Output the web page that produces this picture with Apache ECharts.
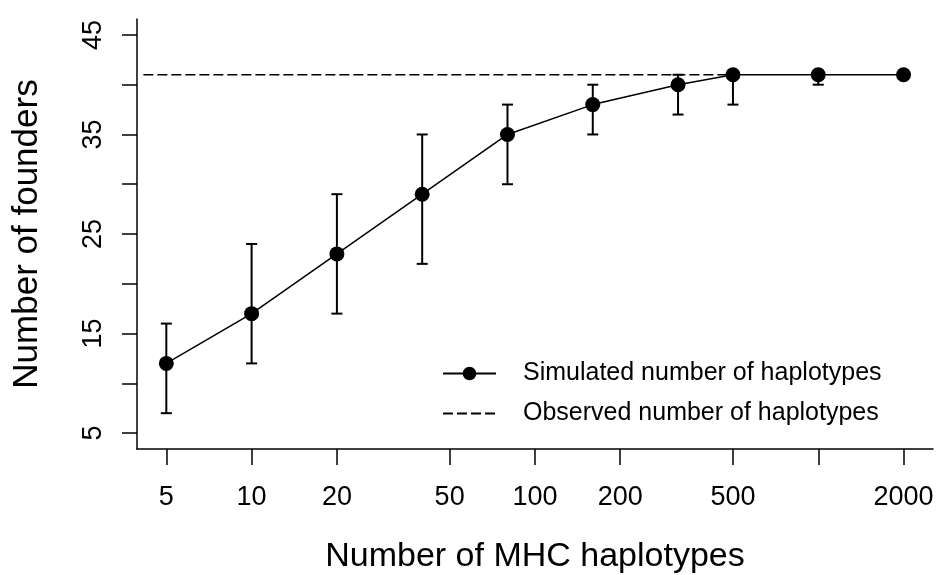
<!DOCTYPE html>
<html><head><meta charset="utf-8">
<script src="https://cdn.jsdelivr.net/npm/echarts@6/dist/echarts.min.js"></script>
<style>html,body{margin:0;padding:0;background:#fff}#c{width:941px;height:575px}</style>
</head><body><div id="c"></div>
<script>
// ---- data ----
const haplotypes = [5, 10, 20, 40, 80, 160, 320, 500, 1000, 2000];
const founders   = [12, 17, 23, 29, 35, 38, 40, 41, 41, 41];
const lower      = [7, 12, 17, 22, 30, 35, 37, 38, 40, 41];
const upper      = [16, 24, 29, 35, 38, 40, 41, 41, 41, 41];
const observedValue = 41;
const observedFrom  = [4.15, 500];
const xTickValues  = [5, 10, 20, 50, 100, 200, 500, 1000, 2000];
const xLabelValues = [5, 10, 20, 50, 100, 200, 500, 2000];
const yTickValues  = [5, 10, 15, 20, 25, 30, 35, 40, 45];
const yLabelValues = [5, 15, 25, 35, 45];
const xMin = 3.94, xMax = 2541, yMin = 3.4, yMax = 46.6;

const FONT = "'Liberation Sans', Arial, sans-serif";
const chart = echarts.init(document.getElementById('c'), null, {renderer: 'canvas'});

const simData = haplotypes.map((h, i) => [h, founders[i]]);
const errData = haplotypes.map((h, i) => [h, lower[i], upper[i]]);
const obsData = observedFrom.map(x => [x, observedValue]);

chart.setOption({
  animation: false,
  backgroundColor: '#fff',
  grid: {left: 137, right: 8, top: 19, bottom: 126, containLabel: false, outerBoundsMode: 'none'},
  legend: {
    orient: 'vertical',
    left: 442, top: 361, padding: 0,
    itemWidth: 53, itemHeight: 17, itemGap: 15,
    textStyle: {fontFamily: FONT, fontSize: 25, color: '#000', padding: [0, 0, 0, 22]},
    data: ['Simulated number of haplotypes', 'Observed number of haplotypes']
  },
  xAxis: [
    {type: 'log', logBase: 10, min: xMin, max: xMax, show: false},
    {
      type: 'value', position: 'bottom',
      min: Math.log10(xMin), max: Math.log10(xMax),
      name: 'Number of MHC haplotypes', nameLocation: 'middle', nameGap: 91,
      nameTextStyle: {fontFamily: FONT, fontSize: 34, color: '#000'},
      splitLine: {show: false},
      axisLine: {show: true, lineStyle: {color: '#000', width: 1.5}},
      axisTick: {show: true, length: 16, lineStyle: {color: '#000', width: 1.5},
                 customValues: xTickValues.map(v => Math.log10(v))},
      axisLabel: {show: true, margin: 35, fontFamily: FONT, fontSize: 27, color: '#000',
                  customValues: xLabelValues.map(v => Math.log10(v)),
                  formatter: v => String(Math.round(Math.pow(10, v)))}
    }
  ],
  yAxis: {
    type: 'value', min: yMin, max: yMax,
    name: 'Number of founders', nameLocation: 'middle', nameGap: 92,
    nameTextStyle: {fontFamily: FONT, fontSize: 35, color: '#000'},
    splitLine: {show: false},
    axisLine: {show: true, lineStyle: {color: '#000', width: 1.5}},
    axisTick: {show: true, length: 15, lineStyle: {color: '#000', width: 1.5},
               customValues: yTickValues},
    axisLabel: {show: true, rotate: 90, margin: 30, fontFamily: FONT, fontSize: 27, color: '#000',
                customValues: yLabelValues}
  },
  series: [
    {
      name: 'Observed number of haplotypes', type: 'line', xAxisIndex: 0,
      data: obsData, symbol: 'none', silent: true, z: 1,
      lineStyle: {color: '#000', width: 1.5, type: [10, 4]},
      itemStyle: {color: 'rgba(0,0,0,0)'}
    },
    {
      name: 'errorbars', type: 'custom', xAxisIndex: 0, z: 2, silent: true,
      data: errData,
      renderItem: function (params, api) {
        const lo = api.coord([api.value(0), api.value(1)]);
        const hi = api.coord([api.value(0), api.value(2)]);
        const w = 5.5;
        const st = {stroke: '#000', lineWidth: 2};
        return {type: 'group', children: [
          {type: 'line', shape: {x1: lo[0], y1: lo[1], x2: hi[0], y2: hi[1]}, style: st},
          {type: 'line', shape: {x1: lo[0] - w, y1: lo[1], x2: lo[0] + w, y2: lo[1]}, style: st},
          {type: 'line', shape: {x1: hi[0] - w, y1: hi[1], x2: hi[0] + w, y2: hi[1]}, style: st}
        ]};
      }
    },
    {
      name: 'Simulated number of haplotypes', type: 'line', xAxisIndex: 0, z: 3,
      data: simData, symbol: 'circle', symbolSize: 15, silent: true,
      lineStyle: {color: '#000', width: 1.5},
      itemStyle: {color: '#000'}
    }
  ]
});
</script></body></html>
